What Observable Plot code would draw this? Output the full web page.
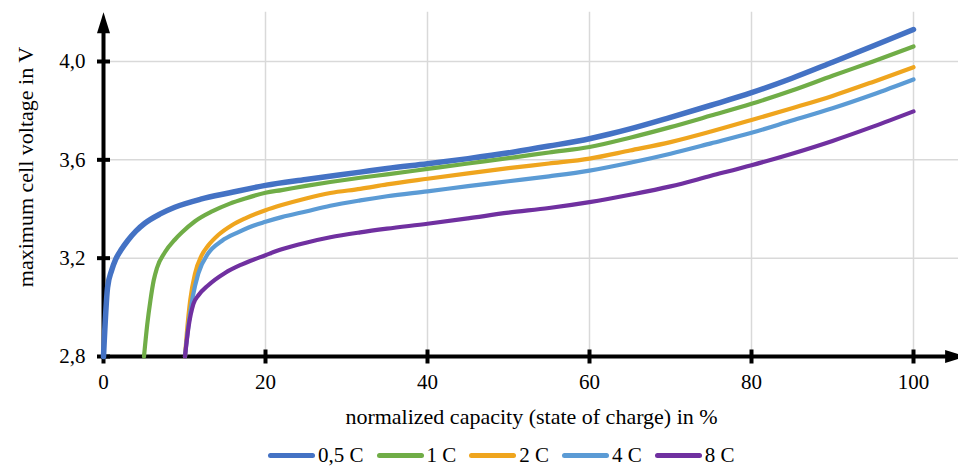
<!DOCTYPE html>
<html><head><meta charset="utf-8">
<script src="https://cdn.jsdelivr.net/npm/d3@7"></script>
<script src="https://cdn.jsdelivr.net/npm/@observablehq/plot@0.6"></script>
<style>
html,body{margin:0;padding:0;background:#fff;}
#wrap{position:relative;width:958px;height:467px;overflow:hidden;font-family:"Liberation Serif","Tinos","Times New Roman","DejaVu Serif",serif;}
#wrap svg{display:block;}
#legend{position:absolute;left:268px;top:444px;display:flex;align-items:center;font-size:21px;line-height:22px;color:#000;white-space:nowrap;}
.item{display:flex;align-items:center;margin-right:13px;}
.sw{width:47px;height:5px;border-radius:3px;margin-right:3px;}
</style></head><body><div id="wrap"><div id="legend"></div></div>
<script>
// ---- data ----
const seriesNames = ["0,5 C", "1 C", "2 C", "4 C", "8 C"];
const seriesColors = ["#4472C4", "#70AD47", "#EFA51E", "#5B9BD5", "#7030A0"];
const seriesWidths = [5.5, 4.2, 4.2, 4.2, 4.2];

const soc05 = [0,0.5,1.0,1.5,2.2,3.0,4,5.1,7,8.8,12,15.6,20,25,31.7,35,40,45,50.7,55,60,62.5,65,70,75,80,85,90,95,100];
const v05   = [2.8,3.08,3.15,3.195,3.235,3.272,3.31,3.342,3.38,3.407,3.44,3.466,3.496,3.52,3.55,3.565,3.584,3.605,3.632,3.656,3.686,3.705,3.726,3.773,3.822,3.873,3.932,3.997,4.063,4.130];

const soc1 = [5.0,5.4,5.8,6.2,6.6,7.6,8.8,9.7,11.3,13.4,15.6,17.5,20,22,25,31.7,35,40,45,50.7,55,60,65,70,75,80,85,90,95,100];
const v1   = [2.8,2.93,3.03,3.11,3.16,3.225,3.275,3.305,3.35,3.39,3.422,3.443,3.466,3.477,3.494,3.527,3.541,3.563,3.585,3.61,3.63,3.652,3.69,3.733,3.78,3.828,3.882,3.942,4.0,4.061];

const soc2 = [10.06,10.3,10.7,11.3,12.1,12.9,14.2,15.8,17.5,20,22,25,28,31.7,35,40,45,50,55,60,65,70,75,80,85,90,95,100];
const v2   = [2.8,2.9,3.028,3.137,3.21,3.25,3.295,3.333,3.362,3.395,3.416,3.443,3.465,3.482,3.5,3.523,3.545,3.566,3.585,3.605,3.638,3.672,3.715,3.762,3.81,3.86,3.917,3.977];

const soc4 = [10.06,10.5,11.0,11.7,12.9,14.6,16.6,18,20,22,25,28,31.7,35,40,45,50,55,60,65,70,75,80,85,90,95,100];
const v4   = [2.8,2.93,3.04,3.137,3.218,3.27,3.305,3.326,3.348,3.367,3.39,3.413,3.435,3.452,3.472,3.493,3.513,3.533,3.556,3.588,3.625,3.667,3.71,3.76,3.81,3.866,3.927];

const soc8 = [10.06,10.5,11.1,11.7,12.9,15.0,17.1,20,22,25,28,31.7,35,40,45,50,55,60,65,70,75,80,85,90,95,100];
const v8   = [2.8,2.92,3.014,3.048,3.089,3.14,3.175,3.212,3.236,3.263,3.285,3.305,3.32,3.34,3.362,3.385,3.404,3.428,3.458,3.492,3.535,3.578,3.625,3.677,3.735,3.797];

const xTicks = [0, 20, 40, 60, 80, 100];
const yTicks = [2.8, 3.2, 3.6, 4.0];
const xGridTicks = [20, 40, 60, 80, 100];
const yGridTicks = [3.2, 3.6, 4.0];
const xTitle = "normalized capacity (state of charge) in %";
const yTitle = "maximum cell voltage in V";
const xAxisEnd = 106.5;   // arrow tip of x axis (beyond 100)
const yAxisEnd = 4.2;     // arrow tip of y axis (beyond 4.0)

// ---- build table ----
const socs = [soc05, soc1, soc2, soc4, soc8];
const volts = [v05, v1, v2, v4, v8];
const table = seriesNames.map((name, i) => socs[i].map((s, j) => ({series: name, soc: s, v: volts[i][j]})));

const font = "'Liberation Serif','Tinos','Times New Roman','DejaVu Serif',serif";
const hTick = {draw(ctx){ ctx.moveTo(-6.5, 0); ctx.lineTo(6.5, 0); }};
const vTick = {draw(ctx){ ctx.moveTo(0, -7); ctx.lineTo(0, 7); }};
const arrowHead = {draw(ctx){ ctx.moveTo(0, 0); ctx.lineTo(6.5, 21); ctx.lineTo(-6.5, 21); ctx.closePath(); }};

const lineMarks = table.map((rows, i) => Plot.line(rows, {
  x: "soc", y: "v", stroke: seriesColors[i], strokeWidth: seriesWidths[i],
  curve: "monotone-x", strokeLinecap: "round", strokeLinejoin: "round"
}));

const chart = Plot.plot({
  width: 958, height: 440,
  marginLeft: 103, marginRight: 45, marginTop: 61, marginBottom: 84,
  x: {domain: [0, 100]},
  y: {domain: [2.8, 4.0]},
  style: {fontFamily: font, fontSize: "21px", color: "black", background: "white", overflow: "visible"},
  marks: [
    Plot.ruleY(yGridTicks, {x1: 0, x2: xAxisEnd, stroke: "#d9d9d9", strokeWidth: 1.5}),
    Plot.ruleX(xGridTicks, {y1: 2.8, y2: yAxisEnd, stroke: "#d9d9d9", strokeWidth: 1.5}),
    // axis lines
    Plot.ruleY([2.8], {x1: 0, x2: xAxisEnd - 2, stroke: "black", strokeWidth: 4, strokeLinecap: "square"}),
    Plot.ruleX([0], {y1: 2.8, y2: yAxisEnd - 0.05, stroke: "black", strokeWidth: 4, strokeLinecap: "square"}),
    // arrow heads
    Plot.dot([yAxisEnd], {x: 0, y: d => d, symbol: arrowHead, fill: "black", stroke: "none"}),
    Plot.dot([xAxisEnd], {x: d => d, y: 2.8, symbol: arrowHead, rotate: 90, fill: "black", stroke: "none"}),
    // tick marks
    Plot.dot(yTicks, {x: 0, y: d => d, symbol: hTick, fill: "none", stroke: "black", strokeWidth: 4}),
    Plot.dot(xTicks, {x: d => d, y: 2.8, symbol: vTick, fill: "none", stroke: "black", strokeWidth: 4}),
    // tick labels
    Plot.axisX(xTicks, {tickSize: 0, tickPadding: 18, label: null, tickFormat: d => String(d), fontSize: 21, fontFamily: font}),
    Plot.axisY(yTicks, {tickSize: 0, tickPadding: 18, label: null, tickFormat: d => d.toFixed(1).replace(".", ","), fontSize: 21, fontFamily: font}),
    // titles
    Plot.text([xTitle], {frameAnchor: "bottom", text: d => d, lineAnchor: "bottom", textAnchor: "middle", dx: 23, dy: 67, fontSize: 22, fontFamily: font, fill: "black"}),
    Plot.text([yTitle], {frameAnchor: "left", text: d => d, rotate: -90, lineAnchor: "bottom", textAnchor: "middle", dx: -71, dy: -42, fontSize: 22, fontFamily: font, fill: "black"}),
    ...lineMarks
  ]
});

const wrap = document.getElementById("wrap");
wrap.insertBefore(chart, wrap.firstChild);

const legend = document.getElementById("legend");
seriesNames.forEach((name, i) => {
  const item = document.createElement("div");
  item.className = "item";
  const sw = document.createElement("span");
  sw.className = "sw";
  sw.style.background = seriesColors[i];
  const lab = document.createElement("span");
  lab.textContent = name;
  item.appendChild(sw); item.appendChild(lab);
  legend.appendChild(item);
});
</script></body></html>
